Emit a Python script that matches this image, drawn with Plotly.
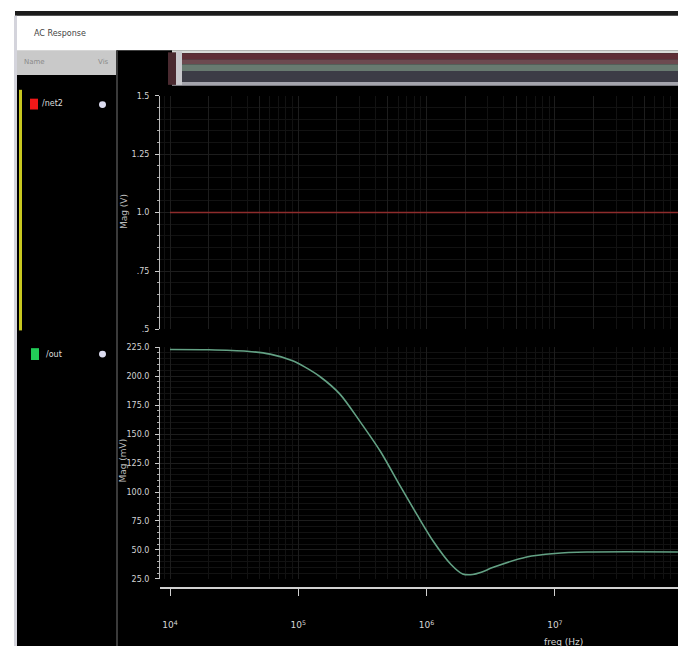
import plotly.graph_objects as go

# ---------------- data ----------------
freq_hz = [1e4, 2e4, 3.98e4, 6.03e4, 8.91e4, 1.12e5, 1.48e5, 2.11e5, 3.02e5, 4.37e5,
           6.17e5, 8.41e5, 1.12e6, 1.55e6, 1.91e6, 2.29e6, 2.63e6, 3.31e6, 6.03e6,
           1e7, 1.78e7, 9.1e7]
out_mV = [223.0, 222.8, 221.5, 219.0, 213.5, 208.0, 199.5, 184.5, 161.0, 135.0,
          106.0, 80.5, 58.0, 37.5, 29.3, 28.8, 30.5, 35.0, 44.0,
          47.0, 48.2, 48.3]
net2_freq = [1e4, 9.1e7]
net2_V = [1.0, 1.0]

x_tickvals = [1e4, 1e5, 1e6, 1e7]
x_ticktext = ["10<sup>4</sup>", "10<sup>5</sup>", "10<sup>6</sup>", "10<sup>7</sup>"]
top_tickvals = [0.5, 0.75, 1.0, 1.25, 1.5]
top_ticktext = [".5", ".75", "1.0", "1.25", "1.5"]
bot_tickvals = [25, 50, 75, 100, 125, 150, 175, 200, 225]
bot_ticktext = ["25.0", "50.0", "75.0", "100.0", "125.0", "150.0", "175.0", "200.0", "225.0"]

W, H = 678, 651
def px(x): return x / W
def py(y): return 1 - y / H

FONT = "DejaVu Sans"
TXT = "#d4d4d4"

fig = go.Figure()
fig.add_trace(go.Scatter(x=net2_freq, y=net2_V, mode="lines", xaxis="x2", yaxis="y",
                         line=dict(color="#8e2c2c", width=1.6), hoverinfo="skip"))
fig.add_trace(go.Scatter(x=freq_hz, y=out_mV, mode="lines", xaxis="x", yaxis="y2",
                         line=dict(color="#63a184", width=1.6, shape="spline", smoothing=0.8),
                         hoverinfo="skip"))

shapes = []
def rect(x0, y0, x1, y1, color, layer="below"):
    shapes.append(dict(type="rect", xref="paper", yref="paper",
                       x0=px(x0), x1=px(x1), y0=py(y1), y1=py(y0),
                       fillcolor=color, line=dict(width=0), layer=layer))

# window frame
rect(15, 7, 678, 12, "#1c1c1c")
rect(14, 12, 17, 651, "#d4d4dc")
# black areas
rect(117, 47, 678, 651, "#000000")
rect(17, 72, 117, 651, "#000000")
# header of name column
rect(17, 47, 117, 72, "#c9c9c9")
rect(116, 47, 118, 651, "#3a3a3a")
# scrollbar bands
rect(172, 47, 678, 50, "#d8dcd8")
rect(172, 50, 678, 56, "#5e2e36")
rect(172, 56, 678, 61, "#6c4a50")
rect(172, 61, 678, 68, "#687a70")
rect(172, 68, 678, 79, "#3c3c46")
rect(172, 79, 678, 83, "#a4a4ac")
rect(168, 49, 176, 82, "#4a2a30")
rect(176, 48, 182, 82, "#c8c8cc")
# legend items
rect(19, 87, 22, 331, "#c8c820")
rect(30, 96, 38, 107, "#f01818")
rect(31, 349, 39, 361, "#22cc58")
for cy in (102, 355):
    shapes.append(dict(type="circle", xref="paper", yref="paper",
                       x0=px(99), x1=px(106), y0=py(cy + 3.5), y1=py(cy - 3.5),
                       fillcolor="#dcdcf0", line=dict(width=0), layer="below"))

ann = []
def text(x, y, s, size=9, color=TXT, xanchor="left", angle=0):
    ann.append(dict(x=px(x), y=py(y), xref="paper", yref="paper", text=s, showarrow=False,
                    xanchor=xanchor, yanchor="middle", textangle=angle,
                    font=dict(family=FONT, size=size, color=color)))

text(32, 30, "AC Response", size=8, color="#444444")
text(22, 59, "Name", size=7, color="#8a8a8a")
text(96, 59, "Vis", size=7, color="#8a8a8a")
text(40, 101, "/net2", size=8, color="#dddddd")
text(44, 355, "/out", size=8, color="#dddddd")
text(124, 211, "Mag (V)", size=9, color="#bbbbbb", xanchor="center", angle=-90)
text(123, 463, "Mag (mV)", size=9, color="#bbbbbb", xanchor="center", angle=-90)
text(563, 647, "freq (Hz)", size=9, color=TXT, xanchor="center")

x_dom = [px(160), 1]
x_rng = [4 - 10 / 128.3, 4 - 10 / 128.3 + 518 / 128.3]

common_x = dict(type="log", domain=x_dom, range=x_rng, showgrid=True, gridcolor="#1d1d1d",
                gridwidth=1, zeroline=False,
                minor=dict(showgrid=True, gridcolor="#121212", dtick="D1"))

fig.update_layout(
    width=W, height=H, margin=dict(l=0, r=0, t=0, b=0),
    paper_bgcolor="white", plot_bgcolor="rgba(0,0,0,0)", showlegend=False,
    shapes=shapes, annotations=ann,
    xaxis=dict(**common_x, anchor="free", position=py(592),
               showline=True, linecolor="#d0d0d0", linewidth=1.5,
               ticks="outside", ticklen=7, tickcolor="#d0d0d0", tickwidth=1,
               tickvals=x_tickvals, ticktext=x_ticktext, ticklabelstandoff=22,
               tickfont=dict(family=FONT, size=9, color=TXT)),
    xaxis2=dict(**common_x, anchor="y", matches="x", showticklabels=False, ticks=""),
    yaxis=dict(domain=[py(330), py(93)], range=[0.5, 1.5], anchor="x2",
               showline=True, linecolor="#bbbbbb", linewidth=1,
               ticks="outside", ticklen=4, tickcolor="#cccccc",
               tickvals=top_tickvals, ticktext=top_ticktext, ticklabelstandoff=4,
               tickfont=dict(family=FONT, size=8, color=TXT),
               showgrid=True, gridcolor="#1d1d1d", zeroline=False,
               minor=dict(dtick=0.05, ticks="outside", ticklen=2, tickcolor="#aaaaaa",
                          showgrid=True, gridcolor="#121212")),
    yaxis2=dict(domain=[py(583), py(348)], range=[25, 225], anchor="x",
                showline=True, linecolor="#bbbbbb", linewidth=1,
                ticks="outside", ticklen=4, tickcolor="#cccccc",
                tickvals=bot_tickvals, ticktext=bot_ticktext, ticklabelstandoff=4,
                tickfont=dict(family=FONT, size=8, color=TXT),
                showgrid=True, gridcolor="#1d1d1d", zeroline=False,
                minor=dict(dtick=5, ticks="outside", ticklen=2, tickcolor="#aaaaaa",
                           showgrid=True, gridcolor="#121212")),
)

fig.write_html("out.html")
